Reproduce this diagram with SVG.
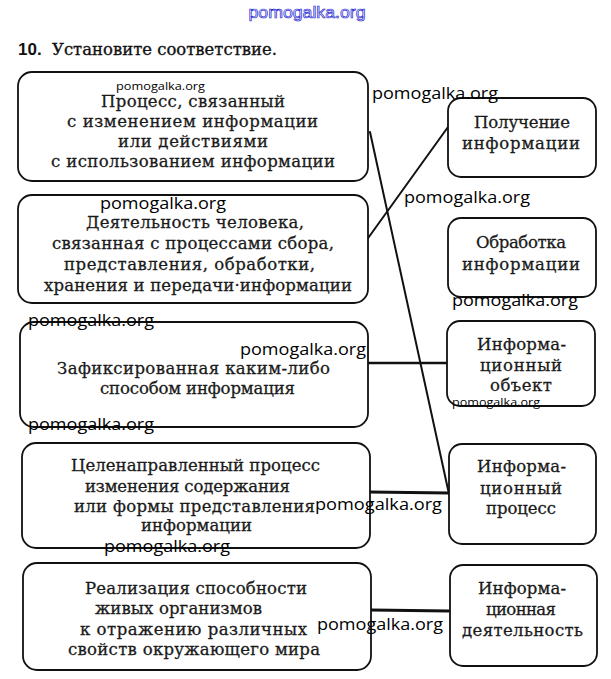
<svg xmlns="http://www.w3.org/2000/svg" width="611" height="679" viewBox="0 0 611 679">
<style>
.box{fill:#fff;stroke:#111;stroke-width:1.8}
.t,.r{font-family:"DejaVu Serif","Liberation Serif",serif;font-size:16.5px;fill:#1a1a1a;stroke:#1a1a1a;stroke-width:0.3}
.w{font-family:"Open Sans","Liberation Sans",sans-serif;font-size:16px;fill:#000}
.ws{font-family:"Open Sans","Liberation Sans",sans-serif;font-size:11px;fill:#000}
.c{stroke:#111;fill:none;stroke-linecap:round}
</style>
<rect width="611" height="679" fill="#fff"/>
<text x="307" y="18" text-anchor="middle" font-family="Liberation Sans, sans-serif" font-size="17" fill="#eef" stroke="#2a2ad0" stroke-width="0.7" textLength="117" lengthAdjust="spacingAndGlyphs">pomogalka.org</text>
<text x="18" y="55" font-family="Liberation Sans, sans-serif" font-weight="bold" font-size="17" fill="#111">10.</text>
<text x="52" y="55" font-family="DejaVu Serif, serif" font-size="17" fill="#111" stroke="#111" stroke-width="0.35" textLength="225" lengthAdjust="spacingAndGlyphs">Установите соответствие.</text>

<g id="connectors">
<line class="c" x1="370" y1="132" x2="449" y2="494" stroke-width="2"/>
<line class="c" x1="366" y1="241" x2="448" y2="127" stroke-width="2"/>
<line class="c" x1="368" y1="363" x2="448" y2="363" stroke-width="2.5"/>
<line class="c" x1="369" y1="492" x2="449" y2="493" stroke-width="3"/>
<line class="c" x1="371" y1="610" x2="449" y2="611" stroke-width="3"/>
</g>

<g id="box1">
<rect class="box" x="18" y="72" width="350" height="109" rx="14"/>
<text class="t" x="101" y="107" textLength="184" lengthAdjust="spacing">Процесс, связанный</text>
<text class="t" x="67" y="127" textLength="251" lengthAdjust="spacing">с изменением информации</text>
<text class="t" x="118" y="147" textLength="150" lengthAdjust="spacing">или действиями</text>
<text class="t" x="51" y="167" textLength="284" lengthAdjust="spacing">с использованием информации</text>
</g>
<g id="box2">
<rect class="box" x="18" y="195" width="350" height="108" rx="14"/>
<text class="t" x="86" y="228" textLength="218" lengthAdjust="spacing">Деятельность человека,</text>
<text class="t" x="52" y="249" textLength="282" lengthAdjust="spacing">связанная с процессами сбора,</text>
<text class="t" x="64" y="270" textLength="251" lengthAdjust="spacing">представления, обработки,</text>
<text class="t" x="44" y="291" textLength="308" lengthAdjust="spacing">хранения и передачи·информации</text>
</g>
<g id="box3">
<rect class="box" x="20" y="322" width="348" height="105" rx="14"/>
<text class="t" x="57" y="374" textLength="273" lengthAdjust="spacing">Зафиксированная каким-либо</text>
<text class="t" x="100" y="394" textLength="195" lengthAdjust="spacing">способом информация</text>
</g>
<g id="box4">
<rect class="box" x="22" y="443" width="348" height="105" rx="14"/>
<text class="t" x="71" y="471" textLength="249" lengthAdjust="spacing">Целенаправленный процесс</text>
<text class="t" x="85" y="492" textLength="205" lengthAdjust="spacing">изменения содержания</text>
<text class="t" x="74" y="512" textLength="241" lengthAdjust="spacing">или формы представления</text>
<text class="t" x="141" y="531" textLength="111" lengthAdjust="spacing">информации</text>
</g>
<g id="box5">
<rect class="box" x="23" y="563" width="348" height="107" rx="14"/>
<text class="t" x="85" y="594" textLength="222" lengthAdjust="spacing">Реализация способности</text>
<text class="t" x="95" y="614" textLength="167" lengthAdjust="spacing">живых организмов</text>
<text class="t" x="80" y="635" textLength="227" lengthAdjust="spacing">к отражению различных</text>
<text class="t" x="68" y="655" textLength="252" lengthAdjust="spacing">свойств окружающего мира</text>
</g>

<g id="r1">
<rect class="box" x="448" y="98" width="148" height="79" rx="13"/>
<text class="r" x="474" y="128" textLength="96" lengthAdjust="spacing">Получение</text>
<text class="r" x="462" y="149" textLength="118" lengthAdjust="spacing">информации</text>
</g>
<g id="r2">
<rect class="box" x="448" y="218" width="148" height="79" rx="13"/>
<text class="r" x="476" y="248" textLength="90" lengthAdjust="spacing">Обработка</text>
<text class="r" x="462" y="270" textLength="118" lengthAdjust="spacing">информации</text>
</g>
<g id="r3">
<rect class="box" x="447" y="321" width="148" height="85" rx="13"/>
<text class="r" x="477" y="350" textLength="89" lengthAdjust="spacing">Информа-</text>
<text class="r" x="480" y="371" textLength="82" lengthAdjust="spacing">ционный</text>
<text class="r" x="490" y="391" textLength="62" lengthAdjust="spacing">объект</text>
</g>
<g id="r4">
<rect class="box" x="449" y="444" width="147" height="100" rx="13"/>
<text class="r" x="477" y="472" textLength="89" lengthAdjust="spacing">Информа-</text>
<text class="r" x="480" y="494" textLength="82" lengthAdjust="spacing">ционный</text>
<text class="r" x="486" y="514" textLength="70" lengthAdjust="spacing">процесс</text>
</g>
<g id="r5">
<rect class="box" x="450" y="565" width="147" height="101" rx="13"/>
<text class="r" x="478" y="594" textLength="88" lengthAdjust="spacing">Информа-</text>
<text class="r" x="486" y="615" textLength="70" lengthAdjust="spacing">ционная</text>
<text class="r" x="462" y="636" textLength="121" lengthAdjust="spacing">деятельность</text>
</g>

<g id="watermarks">
<text class="ws" x="116" y="90" textLength="89" lengthAdjust="spacingAndGlyphs">pomogalka.org</text>
<text class="w" x="372" y="99" textLength="126" lengthAdjust="spacingAndGlyphs">pomogalka.org</text>
<text class="w" x="404" y="203" textLength="126" lengthAdjust="spacingAndGlyphs">pomogalka.org</text>
<text class="w" x="100" y="209" textLength="126" lengthAdjust="spacingAndGlyphs">pomogalka.org</text>
<text class="w" x="452" y="306" textLength="126" lengthAdjust="spacingAndGlyphs">pomogalka.org</text>
<text class="w" x="28" y="326" textLength="126" lengthAdjust="spacingAndGlyphs">pomogalka.org</text>
<text class="w" x="240" y="355" textLength="126" lengthAdjust="spacingAndGlyphs">pomogalka.org</text>
<text class="ws" x="452" y="406" textLength="88" lengthAdjust="spacingAndGlyphs">pomogalka.org</text>
<text class="w" x="28" y="430" textLength="126" lengthAdjust="spacingAndGlyphs">pomogalka.org</text>
<text class="w" x="315" y="510" textLength="127" lengthAdjust="spacingAndGlyphs">pomogalka.org</text>
<text class="w" x="104" y="552" textLength="126" lengthAdjust="spacingAndGlyphs">pomogalka.org</text>
<text class="w" x="317" y="630" textLength="126" lengthAdjust="spacingAndGlyphs">pomogalka.org</text>
</g>
</svg>
